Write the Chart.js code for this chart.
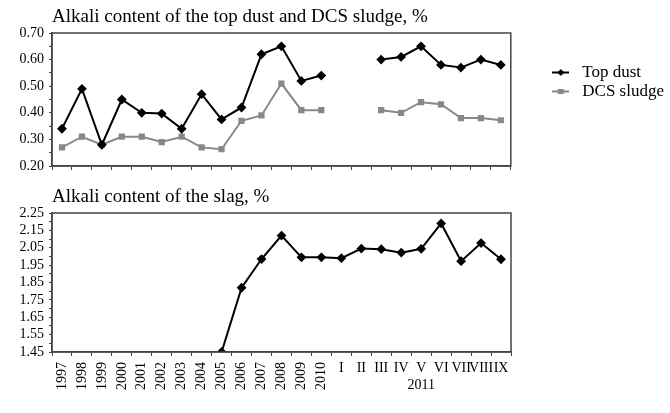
<!DOCTYPE html>
<html>
<head>
<meta charset="utf-8">
<script src="https://cdn.jsdelivr.net/npm/chart.js@4.4.1/dist/chart.umd.min.js"></script>
<style>
  body { margin: 0; background: #fff; }
  #topBox { position: absolute; left: 0; top: 0; width: 670px; height: 180px; }
  #slagBox { position: absolute; left: 0; top: 180px; width: 670px; height: 233px; }
</style>
</head>
<body>
<div id="topBox"><canvas id="dustChart"></canvas></div>
<div id="slagBox"><canvas id="slagChart"></canvas></div>
<script>
// categories: yearly values, then months of 2011
var years = ['1997', '1998', '1999', '2000', '2001', '2002', '2003', '2004', '2005', '2006', '2007', '2008', '2009', '2010'];
var months2011 = ['I', 'II', 'III', 'IV', 'V', 'VI', 'VII', 'VIII', 'IX'];
var monthsYear = '2011';
var categories = years.concat(months2011);

// series values, %
var topDust = [0.34, 0.49, 0.28, 0.45, 0.40, 0.397, 0.34, 0.47, 0.375, 0.42, 0.62, 0.65, 0.52, 0.54,
               null, null, 0.60, 0.61, 0.65, 0.58, 0.57, 0.60, 0.58];
var dcsSludge = [0.27, 0.31, 0.28, 0.31, 0.31, 0.29, 0.31, 0.27, 0.263, 0.37, 0.39, 0.51, 0.41, 0.41,
                 null, null, 0.41, 0.40, 0.44, 0.432, 0.38, 0.38, 0.372];
var slag = [null, null, null, null, null, null, null, null, 1.45, 1.82, 1.985, 2.12, 1.995, 1.995,
            1.99, 2.045, 2.042, 2.022, 2.044, 2.19, 1.973, 2.077, 1.984];

// axis ranges (major step 0.1, minor marks between)
var dustAxis = { min: 0.20, max: 0.70, step: 0.05 };
var slagAxis = { min: 1.45, max: 2.25, step: 0.05 };

var dustTitle = 'Alkali content of the top dust and DCS sludge, %';
var slagTitle = 'Alkali content of the slag, %';

var serif = 'Liberation Serif';
var frameColor = '#444';

// legend icon: short line with the marker on it
function legendIcon(color, shape) {
    var c = document.createElement('canvas');
    c.width = 17; c.height = 9;
    var g = c.getContext('2d');
    g.strokeStyle = color; g.lineWidth = 2;
    g.beginPath(); g.moveTo(0, 4.5); g.lineTo(17, 4.5); g.stroke();
    g.fillStyle = color;
    if (shape === 'diamond') {
        g.beginPath(); g.moveTo(8.5, 1); g.lineTo(12, 4.5); g.lineTo(8.5, 8); g.lineTo(5, 4.5); g.closePath(); g.fill();
    } else {
        g.fillRect(5.5, 2, 6, 5);
    }
    return c;
}
var icons = [legendIcon('#000', 'diamond'), legendIcon('#888', 'square')];

// frame round the plot area and the title above it
var framePlugin = {
    id: 'frameAndTitle',
    afterDraw: function(chart, args, opts) {
        var a = chart.chartArea, ctx = chart.ctx;
        ctx.save();
        ctx.strokeStyle = frameColor;
        ctx.lineWidth = 1.5;
        ctx.strokeRect(a.left, a.top, a.right - a.left, a.bottom - a.top);
        ctx.fillStyle = '#000';
        ctx.font = '19px "' + serif + '"';
        ctx.textBaseline = 'middle';
        ctx.textAlign = 'left';
        ctx.fillText(opts.text, a.left, a.top - 16);
        ctx.restore();
    }
};

// horizontal month labels and the year under them
var monthLabels = {
    id: 'monthLabels',
    afterDraw: function(chart) {
        var sx = chart.scales.x, ctx = chart.ctx;
        var base = chart.chartArea.bottom;
        ctx.save();
        ctx.fillStyle = '#000';
        ctx.font = '14px "' + serif + '"';
        ctx.textAlign = 'center';
        ctx.textBaseline = 'middle';
        for (var i = years.length; i < categories.length; i++) {
            ctx.fillText(categories[i], sx.getPixelForValue(i), base + 16);
        }
        var first = sx.getPixelForValue(years.length);
        var last = sx.getPixelForValue(categories.length - 1);
        ctx.fillText(monthsYear, (first + last) / 2, base + 33);
        ctx.restore();
    }
};

function yScale(range) {
    return {
        min: range.min,
        max: range.max,
        afterFit: function(s) { s.width = 52; },
        grid: { drawOnChartArea: false, tickLength: 3, color: frameColor },
        border: { color: frameColor, width: 1.5 },
        ticks: {
            stepSize: range.step,
            autoSkip: false,
            maxTicksLimit: 30,
            padding: 5,
            color: '#000',
            font: { family: serif, size: 14 },
            callback: function(v, i) { return i % 2 === 0 ? v.toFixed(2) : ''; }
        }
    };
}

new Chart(document.getElementById('dustChart'), {
    type: 'line',
    data: {
        labels: categories,
        datasets: [{
            label: 'Top dust',
            data: topDust,
            borderColor: '#000',
            backgroundColor: '#000',
            borderWidth: 2,
            pointStyle: 'rectRot',
            pointRadius: 3.5,
            tension: 0,
            spanGaps: false
        }, {
            label: 'DCS sludge',
            data: dcsSludge,
            borderColor: '#888',
            backgroundColor: '#888',
            borderWidth: 2,
            pointStyle: 'rect',
            pointRadius: 3,
            tension: 0,
            spanGaps: false
        }]
    },
    options: {
        responsive: true,
        maintainAspectRatio: false,
        animation: false,
        layout: { padding: { top: 33, left: 0, right: -4, bottom: 10 } },
        scales: {
            x: {
                offset: true,
                afterFit: function(s) { s.height = 4; },
                grid: { offset: true, drawOnChartArea: false, tickLength: 4, color: frameColor },
                border: { color: frameColor, width: 1.5 },
                ticks: { display: false }
            },
            y: yScale(dustAxis),
            y2: {
                position: 'right',
                afterFit: function(s) { s.width = 35; },
                grid: { display: false },
                border: { display: false },
                ticks: { display: false }
            }
        },
        plugins: {
            frameAndTitle: { text: dustTitle },
            tooltip: { enabled: false },
            legend: {
                position: 'right',
                align: 'start',
                maxWidth: 200,
                title: { display: true, text: ' ', font: { size: 10 }, padding: { top: 17, bottom: 0 } },
                labels: {
                    usePointStyle: true,
                    pointStyleWidth: 26,
                    padding: 2,
                    color: '#000',
                    font: { family: serif, size: 17 },
                    generateLabels: function(chart) {
                        var items = Chart.defaults.plugins.legend.labels.generateLabels(chart);
                        items.forEach(function(it, i) { it.pointStyle = icons[i]; });
                        return items;
                    }
                }
            }
        }
    },
    plugins: [framePlugin]
});

new Chart(document.getElementById('slagChart'), {
    type: 'line',
    data: {
        labels: categories,
        datasets: [{
            label: 'Slag',
            data: slag,
            borderColor: '#000',
            backgroundColor: '#000',
            borderWidth: 2,
            pointStyle: 'rectRot',
            pointRadius: 3.5,
            tension: 0
        }]
    },
    options: {
        responsive: true,
        maintainAspectRatio: false,
        animation: false,
        layout: { padding: { top: 33, left: 0, right: 159, bottom: 0 } },
        scales: {
            x: {
                offset: true,
                afterFit: function(s) { s.height = 61; },
                grid: { offset: true, drawOnChartArea: false, tickLength: 4, color: frameColor },
                border: { color: frameColor, width: 1.5 },
                ticks: {
                    autoSkip: false,
                    minRotation: 90,
                    maxRotation: 90,
                    padding: 6,
                    color: '#000',
                    font: { family: serif, size: 14 },
                    callback: function(v, i) { return i < years.length ? categories[i] : ''; }
                }
            },
            y: yScale(slagAxis)
        },
        plugins: {
            frameAndTitle: { text: slagTitle },
            tooltip: { enabled: false },
            legend: { display: false }
        }
    },
    plugins: [framePlugin, monthLabels]
});
</script>
</body>
</html>
